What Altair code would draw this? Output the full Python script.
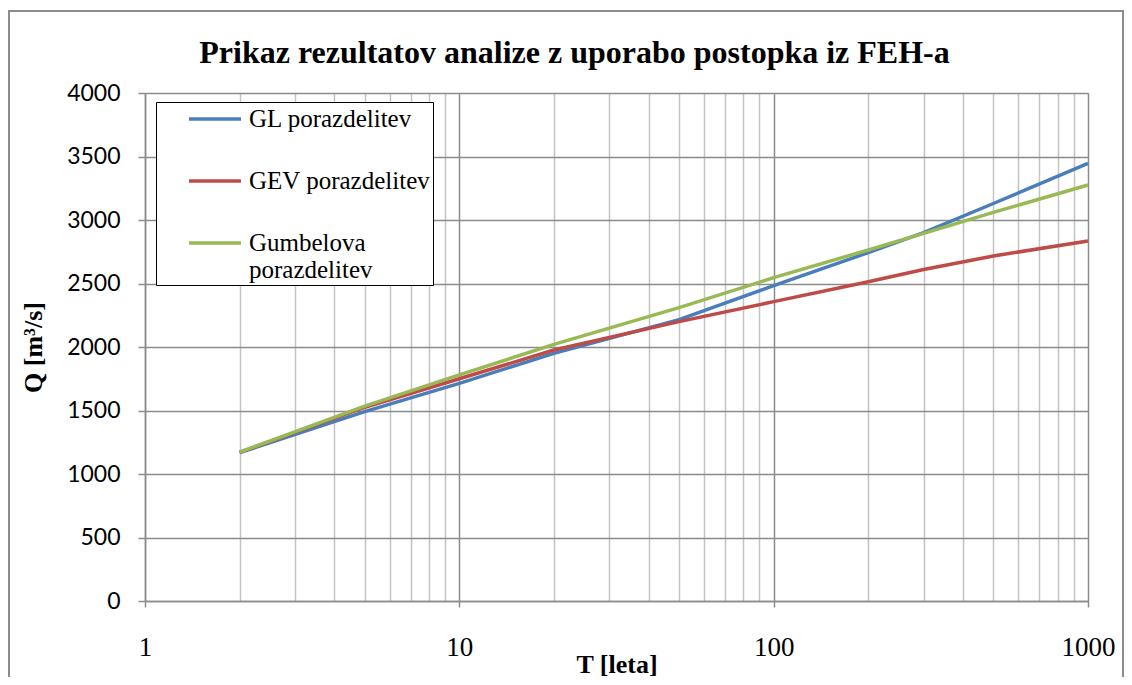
import altair as alt
import pandas as pd

# Return periods T [leta]
T = [2, 5, 10, 20, 50, 100, 200, 300, 500, 1000]
# Q [m3/s] per distribution
gl_q = [1168, 1491, 1714, 1950, 2215, 2483, 2743, 2900, 3130, 3446]
gev_q = [1170, 1525, 1750, 1976, 2200, 2357, 2514, 2610, 2717, 2835]
gum_q = [1172, 1535, 1780, 2021, 2310, 2546, 2764, 2895, 3060, 3276]

series_names = ["GL porazdelitev", "GEV porazdelitev", "Gumbelova porazdelitev"]
series_colors = ["#4A7EBB", "#BE4B48", "#98B954"]

x_tick_values = [1, 2, 3, 4, 5, 6, 7, 8, 9,
                 10, 20, 30, 40, 50, 60, 70, 80, 90,
                 100, 200, 300, 400, 500, 600, 700, 800, 900, 1000]
y_tick_values = [0, 500, 1000, 1500, 2000, 2500, 3000, 3500, 4000]

rows = []
for name, vals in zip(series_names, [gl_q, gev_q, gum_q]):
    for t, q in zip(T, vals):
        rows.append({"T": t, "Q": q, "serija": name})
df = pd.DataFrame(rows)

major_test = "datum.value == 1 || datum.value == 10 || datum.value == 100 || datum.value == 1000"

W, H = 943, 508

lines = alt.Chart(df).mark_line(strokeWidth=3.5).encode(
    x=alt.X("T:Q",
            scale=alt.Scale(type="log", domain=[1, 1000], nice=False),
            axis=alt.Axis(
                values=x_tick_values,
                format="d",
                labelExpr=f"({major_test}) ? datum.label : ''",
                title="T [leta]",
                titleFont="Liberation Serif", titleFontSize=26, titleFontWeight="bold",
                titleColor="black", titleBaseline="middle", titleY=63,
                labelFont="Liberation Serif", labelFontSize=27, labelColor="black",
                labelPadding=40, labelBaseline="middle",
                grid=True,
                gridColor={"condition": {"test": major_test, "value": "#8C8C8C"}, "value": "#C4C4C4"},
                gridWidth=1.5,
                tickColor="#8C8C8C", tickWidth=1.5,
                tickSize={"condition": {"test": major_test, "value": 6}, "value": 0},
                domainColor="#8C8C8C", domainWidth=1.5,
                labelFlush=False, labelOverlap=False,
            )),
    y=alt.Y("Q:Q",
            scale=alt.Scale(domain=[0, 4000], nice=False),
            axis=alt.Axis(
                values=y_tick_values,
                format="d",
                title="Q [m³/s]",
                titleFont="Liberation Serif", titleFontSize=26, titleFontWeight="bold",
                titleColor="black", titleBaseline="middle", titleX=-112, titleY=H / 2,
                titleAngle=270,
                labelFont="Lato", labelFontSize=23, labelColor="black",
                labelPadding=18,
                grid=True, gridColor="#8C8C8C", gridWidth=1.5,
                tickColor="#8C8C8C", tickWidth=1.5, tickSize=7,
                domainColor="#8C8C8C", domainWidth=1.5,
            )),
    color=alt.Color("serija:N",
                    scale=alt.Scale(domain=series_names, range=series_colors),
                    legend=alt.Legend(
                        title=None, orient="none", legendX=11, legendY=9,
                        symbolType="M-2,0H2", symbolSize=676, symbolStrokeWidth=3.5,
                        labelFont="Liberation Serif", labelFontSize=25, labelColor="black",
                        labelLimit=0, labelOffset=19,
                        labelExpr="datum.label == 'Gumbelova porazdelitev' ? ['Gumbelova', 'porazdelitev'] : datum.label",
                        strokeColor="black", fillColor="white",
                        padding=2, symbolOffset=42, rowPadding=34,
                    )),
)

frame_df = pd.DataFrame({"k": [0]})
frame = alt.Chart(frame_df).mark_rect(fill="white", fillOpacity=0, stroke="#8C8C8C", strokeWidth=2).encode(
    x=alt.value(-136), x2=alt.value(978), y=alt.value(-82), y2=alt.value(700)
)

chart = alt.layer(frame, lines).properties(
    width=W, height=H,
    title=alt.TitleParams(
        "Prikaz rezultatov analize z uporabo postopka iz FEH-a",
        font="Liberation Serif", fontSize=32, fontWeight="bold", color="black",
        anchor="middle", frame="group", dx=-42, dy=85, offset=0, baseline="alphabetic",
    ),
    autosize=alt.AutoSizeParams(type="none"),
    padding={"left": 137, "top": 85, "right": 36, "bottom": 76},
).configure_view(stroke=None).configure(background="white")

chart.save("out.html", embed_options={"renderer": "svg", "actions": False})
